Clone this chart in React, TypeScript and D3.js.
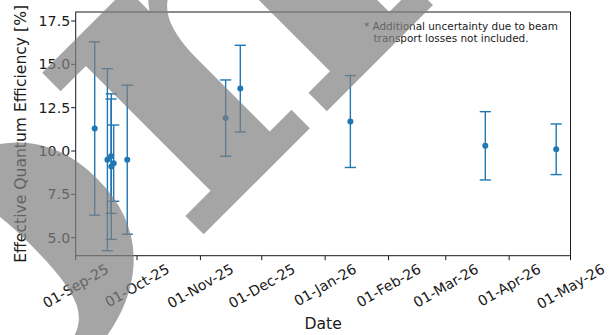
import React, { useEffect, useRef } from "react";
import * as d3 from "d3";

const dates = [
  "2025-09-10 07:00",
  "2025-09-16 12:00",
  "2025-09-18 07:00",
  "2025-09-18 10:00",
  "2025-09-19 14:00",
  "2025-09-26 05:00",
  "2025-11-13 08:00",
  "2025-11-20 12:00",
  "2026-01-13 08:00",
  "2026-03-20 08:00",
  "2026-04-24 00:00",
];
const efficiency = [11.3, 9.5, 9.7, 9.1, 9.3, 9.5, 11.9, 13.6, 11.7, 10.3, 10.1];
const uncertainty = [5.0, 5.25, 3.3, 4.2, 2.2, 4.3, 2.2, 2.5, 2.65, 1.97, 1.46];

const xTickDates = [
  "2025-09-01 00:00",
  "2025-10-01 00:00",
  "2025-11-01 00:00",
  "2025-12-01 00:00",
  "2026-01-01 00:00",
  "2026-02-01 00:00",
  "2026-03-01 00:00",
  "2026-04-01 00:00",
  "2026-05-01 00:00",
];
const yTicks = [5.0, 7.5, 10.0, 12.5, 15.0, 17.5];
const yDomain = [3.96, 18.02];

const noteLines = ["* Additional uncertainty due to beam", "transport losses not included."];
const watermark = "Confidential";

export default function App() {
  const ref = useRef<SVGSVGElement>(null);

  useEffect(() => {
    if (!ref.current) return;
    const svg = d3.select(ref.current);
    svg.selectAll("*").remove();

    const W = 613;
    const H = 335;
    const left = 75.7;
    const right = 570.5;
    const top = 12;
    const bottom = 255.7;
    const font = "'DejaVu Sans', sans-serif";
    const ink = "#1a1a1a";
    const blue = "#1f77b4";

    const parse = d3.timeParse("%Y-%m-%d %H:%M");
    const ticks = xTickDates.map((d) => parse(d) as Date);

    const x = d3
      .scaleTime()
      .domain([ticks[0], ticks[ticks.length - 1]])
      .range([left, right]);
    const y = d3.scaleLinear().domain(yDomain).range([bottom, top]);

    svg.append("rect").attr("width", W).attr("height", H).attr("fill", "#fff");

    const points = dates.map((d, i) => ({
      date: parse(d) as Date,
      value: efficiency[i],
      err: uncertainty[i],
    }));

    // error bars
    const bars = svg.append("g");
    const cap = 5.6;
    points.forEach((p) => {
      const px = x(p.date);
      bars
        .append("line")
        .attr("x1", px)
        .attr("x2", px)
        .attr("y1", y(p.value - p.err))
        .attr("y2", y(p.value + p.err))
        .attr("stroke", blue)
        .attr("stroke-width", 1.4);
      [p.value - p.err, p.value + p.err].forEach((v) => {
        bars
          .append("line")
          .attr("x1", px - cap)
          .attr("x2", px + cap)
          .attr("y1", y(v))
          .attr("y2", y(v))
          .attr("stroke", blue)
          .attr("stroke-width", 1.4);
      });
    });

    bars
      .selectAll("circle")
      .data(points)
      .enter()
      .append("circle")
      .attr("cx", (d) => x(d.date))
      .attr("cy", (d) => y(d.value))
      .attr("r", 3)
      .attr("fill", blue);

    // frame
    svg
      .append("rect")
      .attr("x", left)
      .attr("y", top)
      .attr("width", right - left)
      .attr("height", bottom - top)
      .attr("fill", "none")
      .attr("stroke", ink)
      .attr("stroke-width", 1);

    // y ticks
    yTicks.forEach((t) => {
      svg
        .append("line")
        .attr("x1", left - 4.5)
        .attr("x2", left)
        .attr("y1", y(t))
        .attr("y2", y(t))
        .attr("stroke", ink);
      svg
        .append("text")
        .attr("x", left - 5.5)
        .attr("y", y(t))
        .attr("dy", "0.36em")
        .attr("text-anchor", "end")
        .style("font-family", font)
        .style("font-size", "14.2px")
        .style("fill", ink)
        .text(t.toFixed(1));
    });

    // x ticks, labels rotated 30deg and centred under the tick
    const fmt = d3.timeFormat("%d-%b-%y");
    ticks.forEach((t) => {
      const tx = x(t);
      svg
        .append("line")
        .attr("x1", tx)
        .attr("x2", tx)
        .attr("y1", bottom)
        .attr("y2", bottom + 4.5)
        .attr("stroke", ink);
      const label = svg
        .append("text")
        .attr("text-anchor", "middle")
        .attr("dy", "0.36em")
        .style("font-family", font)
        .style("font-size", "14.2px")
        .style("fill", ink)
        .text(fmt(t));
      const w = (label.node() as SVGTextElement).getComputedTextLength();
      const boxH = w * 0.5 + 11 * 0.866;
      label.attr("transform", `translate(${tx},${bottom + 7 + boxH / 2}) rotate(-30)`);
    });

    // axis titles
    svg
      .append("text")
      .attr("x", (left + right) / 2)
      .attr("y", 329)
      .attr("text-anchor", "middle")
      .style("font-family", font)
      .style("font-size", "15.6px")
      .style("fill", ink)
      .text("Date");

    svg
      .append("text")
      .attr("transform", `translate(26,${(top + bottom) / 2}) rotate(-90)`)
      .attr("text-anchor", "middle")
      .style("font-family", font)
      .style("font-size", "15.6px")
      .style("fill", ink)
      .text("Effective Quantum Efficiency [%]");

    // note
    const note = svg
      .append("text")
      .style("font-family", font)
      .style("font-size", "10.45px")
      .style("fill", ink);
    note.append("tspan").attr("x", 364).attr("y", 29.8).text(noteLines[0]);
    note.append("tspan").attr("x", 373.5).attr("y", 41.5).text(noteLines[1]);

    // watermark over everything; the "n" is pinned where it sits in the reference
    const wm = svg
      .append("text")
      .attr("x", 0)
      .attr("y", 0)
      .style("font-family", "'DejaVu Serif', serif")
      .style("font-weight", "bold")
      .style("font-size", "440px")
      .style("fill", "#808080")
      .style("opacity", 0.7)
      .text(watermark);
    const off = (wm.node() as SVGTextElement).getStartPositionOfChar(2).x;
    wm.attr("x", -off).attr("transform", "translate(192,246) rotate(-45) scale(1.1,1)");
  }, []);

  return (
    <svg
      ref={ref}
      width={613}
      height={335}
      style={{ position: "absolute", left: 0, top: 0 }}
    />
  );
}
